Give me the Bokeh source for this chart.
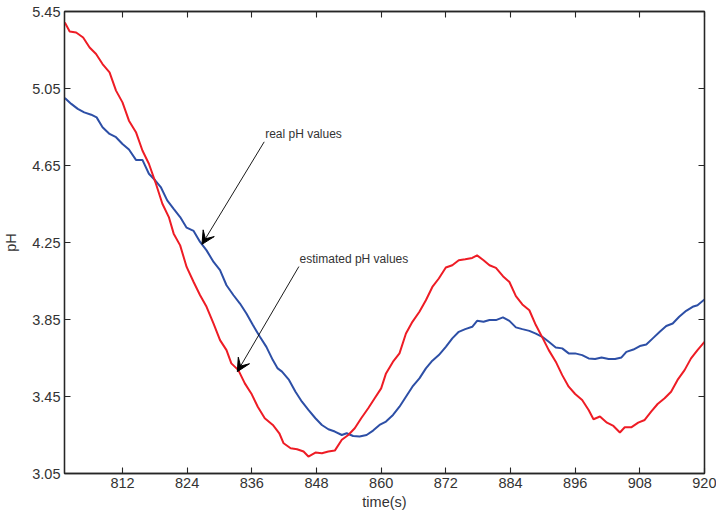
from bokeh.plotting import figure
from bokeh.models import (Range1d, FixedTicker, PrintfTickFormatter, LinearAxis,
                          Arrow, VeeHead, Label)
from bokeh.embed import file_html
from bokeh.resources import INLINE

# ---- data ----
x_ticks = [812, 824, 836, 848, 860, 872, 884, 896, 908, 920]
y_ticks = [3.05, 3.45, 3.85, 4.25, 4.65, 5.05, 5.45]

time_est = [801.3, 802.2, 803.4, 804.7, 805.9, 807.1, 808.3, 809.6, 810.8, 812.0,
            813.2, 814.5, 815.7, 816.9, 818.1, 819.4, 820.6, 821.5, 822.7, 823.9,
            825.2, 826.4, 827.6, 828.9, 830.1, 831.3, 832.2, 833.5, 834.7, 835.9,
            837.1, 838.4, 839.9, 841.1,
            841.9, 843.2, 844.4, 845.6, 846.5, 847.8, 849.0, 850.2, 851.4, 852.7,
            853.9, 855.1, 856.3, 857.6, 858.8, 860.0, 860.9, 862.2, 863.4, 864.6,
            865.8, 867.1, 868.3, 869.5, 870.7, 872.0, 873.2, 874.4, 875.6, 876.9,
            877.8, 879.0,
            880.1, 881.3, 882.6, 883.8, 885.0, 886.2, 887.5, 888.7, 889.9, 891.1,
            892.4, 893.6, 894.8, 896.0, 897.3, 898.5, 899.4, 900.6, 901.9, 903.1,
            904.3, 905.2, 906.4, 907.7, 908.9, 910.1, 911.3, 912.6, 913.8, 915.0,
            916.3, 917.5, 918.7, 920.0]
ph_est = [5.393, 5.346, 5.341, 5.315, 5.263, 5.229, 5.177, 5.134, 5.039, 4.978,
          4.883, 4.823, 4.728, 4.659, 4.564, 4.451, 4.382, 4.296, 4.235, 4.123,
          4.045, 3.976, 3.916, 3.829, 3.743, 3.691, 3.622, 3.587, 3.518, 3.466,
          3.397, 3.337, 3.302, 3.259,
          3.207, 3.181, 3.176, 3.164, 3.138, 3.159, 3.155, 3.164, 3.169, 3.225,
          3.250, 3.285, 3.337, 3.389, 3.441, 3.492, 3.570, 3.631, 3.674, 3.777,
          3.838, 3.890, 3.950, 4.019, 4.063, 4.120, 4.132, 4.158, 4.163, 4.170,
          4.183, 4.158,
          4.132, 4.118, 4.075, 4.045, 3.971, 3.928, 3.898, 3.821, 3.757, 3.691,
          3.631, 3.561, 3.501, 3.463, 3.432, 3.380, 3.332, 3.346, 3.314, 3.297,
          3.263, 3.290, 3.290, 3.314, 3.328, 3.371, 3.411, 3.441, 3.475, 3.536,
          3.587, 3.648, 3.691, 3.734]

time_real = [801.3, 802.5, 803.7, 804.9, 806.2, 807.2, 808.3, 809.6, 810.8, 812.0,
             813.2, 814.5, 815.7, 816.9, 818.1, 819.1, 820.3, 821.5, 822.7, 823.9,
             825.2, 826.4, 827.6, 828.9, 830.1, 831.3, 832.6, 833.8, 835.0, 836.2,
             837.5, 838.7, 839.9, 840.8,
             841.6, 842.9, 844.1, 845.3, 846.5, 847.8, 849.0, 850.2, 851.4, 852.7,
             853.6, 854.8, 856.0, 857.3, 858.5, 859.7, 860.9, 862.2, 863.4, 864.6,
             865.8, 867.1, 868.3, 869.5, 870.7, 872.0, 873.2, 874.4, 875.6, 876.9,
             877.8, 879.0,
             880.1, 881.3, 882.6, 883.8, 885.0, 886.2, 887.5, 888.7, 889.9, 891.1,
             892.4, 893.6, 894.8, 896.0, 897.3, 898.5, 899.7, 900.9, 902.2, 903.4,
             904.6, 905.5, 906.8, 908.0, 909.2, 910.4, 911.7, 912.9, 914.1, 915.3,
             916.6, 917.8, 918.7, 920.0]
ph_real = [5.001, 4.970, 4.944, 4.926, 4.914, 4.900, 4.849, 4.814, 4.797, 4.762,
           4.733, 4.679, 4.679, 4.607, 4.572, 4.538, 4.469, 4.425, 4.382, 4.327,
           4.310, 4.253, 4.209, 4.149, 4.106, 4.028, 3.976, 3.933, 3.881, 3.821,
           3.760, 3.708, 3.639, 3.596,
           3.579, 3.536, 3.475, 3.423, 3.380, 3.337, 3.302, 3.280, 3.268, 3.250,
           3.259, 3.245, 3.242, 3.250, 3.273, 3.302, 3.320, 3.354, 3.397, 3.449,
           3.501, 3.544, 3.596, 3.636, 3.665, 3.708, 3.752, 3.786, 3.800, 3.812,
           3.843, 3.838,
           3.847, 3.847, 3.861, 3.843, 3.809, 3.800, 3.791, 3.777, 3.760, 3.734,
           3.705, 3.700, 3.674, 3.674, 3.665, 3.648, 3.645, 3.653, 3.645, 3.645,
           3.653, 3.682, 3.694, 3.712, 3.720, 3.752, 3.786, 3.816, 3.829, 3.864,
           3.895, 3.916, 3.924, 3.954]

FONT = "Liberation Sans"
AX = "#262626"
TXT = "#333333"

p = figure(width=716, height=513, output_backend="svg", toolbar_location=None,
           x_range=Range1d(801.24, 920), y_range=Range1d(3.05, 5.45),
           min_border_left=59, min_border_top=11, min_border_right=12,
           min_border_bottom=40)
p.xgrid.visible = False
p.ygrid.visible = False
p.outline_line_color = AX
p.outline_line_width = 1.3
p.background_fill_color = "white"
p.border_fill_color = "white"

p.line(time_real, ph_real, line_color="#2D4FA6", line_width=2)
p.line(time_est, ph_est, line_color="#EE1C25", line_width=2)

xb = p.xaxis[0]
xb.ticker = FixedTicker(ticks=x_ticks)
yl = p.yaxis[0]
yl.ticker = FixedTicker(ticks=y_ticks)
yl.formatter = PrintfTickFormatter(format="%.2f")
xt = LinearAxis(ticker=FixedTicker(ticks=x_ticks))
yr = LinearAxis(ticker=FixedTicker(ticks=y_ticks))
p.add_layout(xt, "above")
p.add_layout(yr, "right")

for ax, show in ((xb, True), (yl, True), (xt, False), (yr, False)):
    ax.axis_line_color = AX
    ax.axis_line_width = 1.3
    ax.major_tick_line_color = AX
    ax.major_tick_line_width = 1.1
    ax.major_tick_in = 6
    ax.major_tick_out = 0
    ax.minor_tick_line_color = None
    ax.major_label_text_font = FONT
    if show:
        ax.major_label_text_font_size = "14.5px"
        ax.major_label_text_color = TXT
    else:
        ax.major_label_text_font_size = "1px"
        ax.major_label_text_color = None
        ax.major_label_standoff = 0

xb.major_label_standoff = 4
yl.major_label_standoff = 4
xb.axis_label = "time(s)"
yl.axis_label = "pH"
for ax in (xb, yl):
    ax.axis_label_text_font = FONT
    ax.axis_label_text_font_size = "14.5px"
    ax.axis_label_text_font_style = "normal"
    ax.axis_label_text_color = TXT
xb.axis_label_standoff = 3
yl.axis_label_standoff = 10

# annotations
p.add_layout(Arrow(end=VeeHead(size=13, fill_color="black", line_color="black", line_width=1),
                   x_start=838.3, y_start=4.773, x_end=826.75, y_end=4.2405,
                   line_color="black", line_width=0.9))
p.add_layout(Arrow(end=VeeHead(size=13, fill_color="black", line_color="black", line_width=1),
                   x_start=844.73, y_start=4.125, x_end=833.31, y_end=3.579,
                   line_color="black", line_width=0.9))
p.add_layout(Label(x=838.47, y=4.812, text="real pH values", text_font=FONT,
                   text_font_size="12px", text_color=TXT, text_baseline="middle"))
p.add_layout(Label(x=844.86, y=4.163, text="estimated pH values", text_font=FONT,
                   text_font_size="12px", text_color=TXT, text_baseline="middle"))

open("out.html", "w").write(file_html(p, INLINE))
